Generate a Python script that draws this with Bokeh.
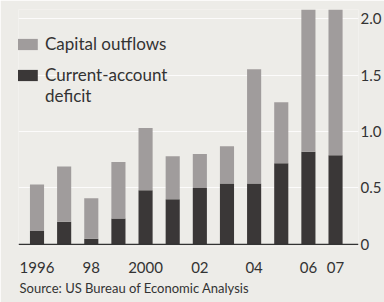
from bokeh.plotting import figure
from bokeh.models import (Legend, LegendItem, FixedTicker, Span, Title, ColumnDataSource)
from bokeh.embed import file_html
from bokeh.resources import INLINE

years = [1996, 1997, 1998, 1999, 2000, 2001, 2002, 2003, 2004, 2005, 2006, 2007]
deficit = [0.12, 0.20, 0.05, 0.23, 0.48, 0.40, 0.50, 0.54, 0.54, 0.72, 0.82, 0.79]
outflows = [0.41, 0.49, 0.36, 0.50, 0.55, 0.38, 0.30, 0.33, 1.01, 0.54, 1.40, 1.45]
x_ticks = [1996, 1998, 2000, 2002, 2004, 2006, 2007]
x_tick_labels = ["1996", "98", "2000", "02", "04", "06", "07"]
y_ticks = [0, 0.5, 1.0, 1.5, 2.0]
y_tick_labels = ["0", "0.5", "1.0", "1.5", "2.0"]

BG = "#edece8"
LIGHT = "#a09c9c"
DARK = "#3a3737"
FONT = "Lato"

src = ColumnDataSource(dict(year=years, deficit=deficit, outflows=outflows))

p = figure(width=384, height=302, output_backend="svg", toolbar_location=None,
           x_range=(1995.318, 2007.846), y_range=(-0.018, 2.08),
           y_axis_location="right",
           min_border_left=18, min_border_right=26, min_border_top=9, min_border_bottom=56)
p.background_fill_color = BG
p.border_fill_color = BG
p.outline_line_color = None

r = p.vbar_stack(["deficit", "outflows"], x="year", width=0.52, source=src,
                 color=[DARK, LIGHT], line_color=None)
# invisible renderer used only for the second line of the legend label
blank = p.vbar(x=[], top=[], width=0.5, fill_alpha=0, line_alpha=0)

p.xgrid.visible = False
p.ygrid.ticker = FixedTicker(ticks=y_ticks)
p.ygrid.grid_line_color = "white"
p.ygrid.grid_line_alpha = 0.8

base = Span(location=0, dimension="width", line_color="#333333", line_width=1.2)
p.add_layout(base)

ya = p.yaxis[0]
ya.ticker = FixedTicker(ticks=y_ticks)
ya.major_label_overrides = {t: l for t, l in zip(y_ticks, y_tick_labels)}
ya.axis_line_color = None
ya.major_tick_line_color = None
ya.major_tick_out = 0
ya.major_tick_in = 0
ya.minor_tick_line_color = None
ya.major_label_standoff = 2
ya.major_label_text_font = FONT
ya.major_label_text_font_size = "15px"
ya.major_label_text_color = "#333333"

xa = p.xaxis[0]
xa.ticker = FixedTicker(ticks=x_ticks)
xa.major_label_overrides = {t: l for t, l in zip(x_ticks, x_tick_labels)}
xa.axis_line_color = None
xa.major_tick_line_color = None
xa.minor_tick_line_color = None
xa.major_label_standoff = 9
xa.major_label_text_font = FONT
xa.major_label_text_font_size = "15px"
xa.major_label_text_color = "#333333"

t = Title(text="Source: US Bureau of Economic Analysis", align="left",
          text_font=FONT, text_font_size="13px", text_font_style="normal",
          text_color="#333333", standoff=4, offset=1)
p.add_layout(t, "below")

common = dict(background_fill_alpha=0, border_line_color=None,
              glyph_width=27, glyph_height=14, label_text_font=FONT,
              label_text_font_size="17px", label_text_color="#333333",
              label_standoff=5, padding=0, margin=0)
legend1 = Legend(items=[LegendItem(label="Capital outflows", renderers=[r[1]])],
                 location=(-5, 192), spacing=0, label_text_line_height=1.1, **common)
legend2 = Legend(items=[LegendItem(label="Current-account", renderers=[r[0]]),
                        LegendItem(label="deficit", renderers=[blank])],
                 location=(-5, 140), spacing=0, label_text_line_height=1.0, **common)
p.add_layout(legend1)
p.add_layout(legend2)

open("out.html", "w").write(file_html(p, INLINE))
